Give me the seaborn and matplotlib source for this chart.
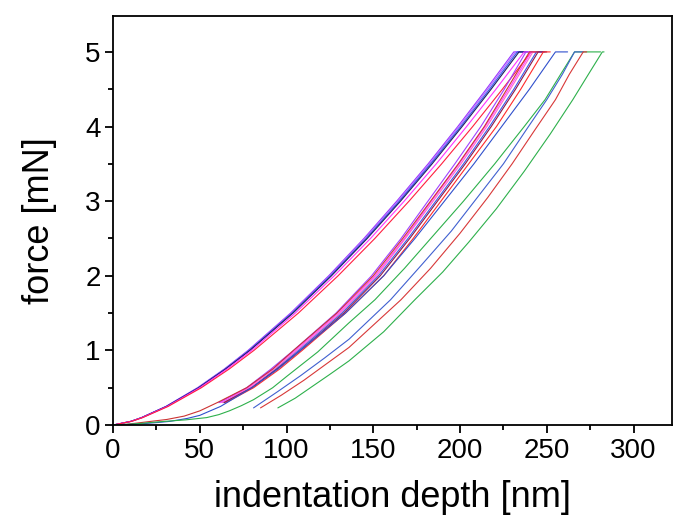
import matplotlib
matplotlib.use("Agg")
import matplotlib.pyplot as plt
import seaborn as sns
import pandas as pd
from matplotlib.ticker import MultipleLocator

# ---------------- data ----------------
# group 1: loading curves starting at the origin
force_g1 = [0, 0.05, 0.1, 0.25, 0.5, 0.75, 1, 1.5, 2, 2.5, 3, 3.5, 4, 4.5, 5]
depth_g1_purple = [0, 10.3, 16.4, 30.5, 48.7, 64.1, 77.8, 102.3, 124.3, 144.6, 163.5, 181.6, 198.7, 215.1, 231]
depth_g1_violet = [0, 10.3, 16.5, 30.6, 49, 64.4, 78.2, 102.8, 124.8, 145.2, 164.3, 182.4, 199.5, 216, 232]
depth_g1_blue = [0, 10.4, 16.5, 30.8, 49.2, 64.6, 78.5, 103.2, 125.4, 145.9, 165, 183.1, 200.4, 217, 233]
depth_g1_navy = [0, 10.4, 16.6, 30.9, 49.4, 64.9, 78.9, 103.7, 125.9, 146.5, 165.7, 183.9, 201.2, 217.9, 234]
depth_g1_magenta = [0, 10.5, 16.8, 31.3, 50, 65.7, 79.9, 105, 127.5, 148.4, 167.8, 186.3, 203.8, 220.7, 237]
depth_g1_red = [0, 10.7, 17.1, 31.8, 50.9, 66.9, 81.2, 106.8, 129.7, 150.9, 170.6, 189.4, 207.3, 224.4, 241]
hold_g1 = [236, 237, 238, 239, 243, 248]

# group 2: curves starting at ~0.3 mN
force_g2 = [0.3, 0.5, 0.75, 1, 1.5, 2, 2.5, 3, 3.5, 4, 4.5, 5]
depth_g2_purple = [61, 77, 91, 104, 128.5, 149, 166, 181.5, 197, 212, 225.5, 238]
depth_g2_magenta = [62, 78, 92, 105, 130, 151, 168, 183.5, 199.5, 214.5, 228, 241]
depth_g2_pink = [63, 79, 93, 106, 131, 152, 168.5, 184.5, 200.5, 215.5, 229, 242]
depth_g2_blue = [64, 80, 94, 107, 132, 153, 170, 186, 202, 217, 231, 244]
depth_g2_maroon = [64, 80, 94.5, 108, 133, 154, 171, 187, 203, 218, 232, 245]
depth_g2_red = [65, 81, 96, 109, 134, 156, 173, 189, 205, 221, 235, 248]
hold_g2 = [243, 246, 247, 249, 250, 252]

# curves with a low toe starting at the origin
force_toe_red = [0, 0.01, 0.03, 0.05, 0.075, 0.12, 0.19, 0.3, 0.5, 0.75, 1, 1.5, 2, 2.5, 3, 3.5, 4, 4.5, 5]
depth_toe_red = [0, 8, 15, 22, 31, 41, 50, 60, 77, 92, 104, 129, 150, 167, 183, 199, 214, 227, 240]
force_toe_blue = [0, 0.01, 0.02, 0.035, 0.05, 0.09, 0.13, 0.25, 0.5, 0.75, 1, 1.5, 2, 2.5, 3, 3.5, 4, 4.5, 5]
depth_toe_blue = [0, 10, 18, 26, 33, 43, 50, 62, 80, 95, 108, 134, 156, 174, 191, 208, 224, 240, 255]
force_green1 = [0, 0.01, 0.02, 0.035, 0.05, 0.07, 0.1, 0.14, 0.19, 0.26, 0.34, 0.5, 0.65, 0.98,
                1.37, 1.68, 2.1, 2.55, 3.0, 3.5, 4.0, 4.36, 4.7, 5]
depth_green1 = [0, 8, 15, 22, 30, 42, 54, 61, 67, 74, 81, 92, 100, 118,
                136, 151, 168, 185, 202, 220, 237, 249, 258, 266]
hold_toe = [245, 262, 281]

# right-hand curves starting at ~0.23 mN
force_blue3 = [0.23, 0.45, 0.66, 0.9, 1.15, 1.68, 2.15, 2.6, 3.05, 3.5, 3.95, 4.36, 4.7, 5]
depth_blue3 = [81, 95, 108, 122, 136, 160, 178, 195, 210, 225, 238, 250, 259, 266]
force_red3 = [0.23, 0.4, 0.6, 0.82, 1.04, 1.68, 2.1, 2.57, 3.05, 3.5, 3.95, 4.36, 4.7, 5]
depth_red3 = [85, 97, 110, 123, 136, 166, 183, 200, 216, 230, 243, 255, 263, 271]
force_green2 = [0.23, 0.36, 0.52, 0.68, 0.86, 1.25, 1.68, 2.05, 2.45, 2.9, 3.4, 3.9, 4.36, 4.7, 5]
depth_green2 = [95, 105, 115, 125, 136, 156, 174, 190, 205, 221, 237, 252, 265, 274, 282]
hold_right = [271, 273, 283]

x_ticks = [0, 50, 100, 150, 200, 250, 300]
y_ticks = [0, 1, 2, 3, 4, 5]

# ---------------- curve table ----------------
curves = [
    ("g1_purple", "#9933FF", depth_g1_purple, force_g1, hold_g1[0]),
    ("g1_violet", "#B266FF", depth_g1_violet, force_g1, hold_g1[1]),
    ("g1_blue", "#3355EE", depth_g1_blue, force_g1, hold_g1[2]),
    ("g1_navy", "#1F1F5F", depth_g1_navy, force_g1, hold_g1[3]),
    ("g1_magenta", "#FF33FF", depth_g1_magenta, force_g1, hold_g1[4]),
    ("g1_red", "#FF1F3F", depth_g1_red, force_g1, hold_g1[5]),
    ("g2_purple", "#A040FF", depth_g2_purple, force_g2, hold_g2[0]),
    ("g2_magenta", "#FF40FF", depth_g2_magenta, force_g2, hold_g2[1]),
    ("g2_pink", "#FF66CC", depth_g2_pink, force_g2, hold_g2[2]),
    ("g2_blue", "#3A5AE8", depth_g2_blue, force_g2, hold_g2[3]),
    ("g2_maroon", "#8B1A4A", depth_g2_maroon, force_g2, hold_g2[4]),
    ("g2_red", "#FF2A2A", depth_g2_red, force_g2, hold_g2[5]),
    ("toe_red", "#CC3333", depth_toe_red, force_toe_red, hold_toe[0]),
    ("toe_blue", "#3050CC", depth_toe_blue, force_toe_blue, hold_toe[1]),
    ("green1", "#2DB04B", depth_green1, force_green1, hold_toe[2]),
    ("blue3", "#4060D0", depth_blue3, force_blue3, hold_right[0]),
    ("red3", "#D83838", depth_red3, force_red3, hold_right[1]),
    ("green2", "#2DB04B", depth_green2, force_green2, hold_right[2]),
]

rows = []
for name, color, d, f, hold in curves:
    for i, (x, y) in enumerate(zip(d + [hold], f + [f[-1]])):
        rows.append({"curve": name, "order": i, "depth": x, "force": y})
df = pd.DataFrame(rows)
palette = {name: color for name, color, *_ in curves}

# ---------------- plot ----------------
sns.set_theme(style="ticks")
plt.rcParams["font.family"] = ["Liberation Sans", "DejaVu Sans"]

fig = plt.figure(figsize=(6.78, 5.19), dpi=100)
ax = fig.add_axes([0.1667, 0.181, 0.824, 0.788])

sns.lineplot(data=df, x="depth", y="force", hue="curve", units="curve",
             estimator=None, sort=False, palette=palette, linewidth=0.8,
             legend=False, ax=ax)

ax.set_xlim(0, 322)
ax.set_ylim(0, 5.48)
ax.set_xticks(x_ticks)
ax.set_yticks(y_ticks)
ax.xaxis.set_minor_locator(MultipleLocator(25))
ax.yaxis.set_minor_locator(MultipleLocator(0.5))

for s in ax.spines.values():
    s.set_visible(True)
    s.set_linewidth(1.3)
    s.set_color("black")

ax.tick_params(axis="both", which="major", direction="out", length=6, width=1.3,
               color="black", labelcolor="black", labelsize=20, pad=3,
               top=False, right=False)
ax.tick_params(axis="both", which="minor", direction="out", length=3.5, width=1.3,
               color="black", top=False, right=False)

ax.set_xlabel("indentation depth [nm]", fontsize=26, labelpad=12, color="black")
ax.set_ylabel("force [mN]", fontsize=26, labelpad=20, color="black")
ax.grid(False)
ax.set_facecolor("white")
fig.patch.set_facecolor("white")

fig.savefig("out.png", dpi=100)
